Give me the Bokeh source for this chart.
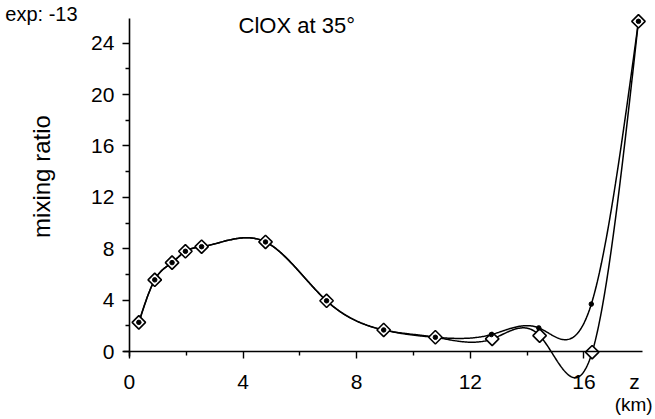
import numpy as np
from bokeh.plotting import figure
from bokeh.models import Range1d, FixedTicker, Label
from bokeh.embed import file_html
from bokeh.resources import INLINE

# ---- data ----
z_a = [0.33, 0.89, 1.50, 1.97, 2.54, 4.79, 6.94, 8.95, 10.77, 12.74, 14.41, 16.26, 17.92]
v_a = [2.27, 5.58, 6.92, 7.80, 8.16, 8.53, 3.95, 1.68, 1.11, 1.32, 1.84, 3.69, 25.7]
z_b = [0.33, 0.89, 1.50, 1.97, 2.54, 4.79, 6.94, 8.95, 10.77, 12.77, 14.44, 16.29, 17.92]
v_b = [2.27, 5.58, 6.92, 7.80, 8.16, 8.53, 3.95, 1.68, 1.11, 0.98, 1.24, -0.05, 25.7]
x_ticks = [0, 4, 8, 12, 16]
x_minor = [2, 6, 10, 14]
y_ticks = [0, 4, 8, 12, 16, 20, 24]
y_minor = [2, 6, 10, 14, 18, 22]

FONT = "Liberation Sans"


def natural_spline(x, y, n=500):
    x = np.asarray(x, float)
    y = np.asarray(y, float)
    m = len(x)
    h = np.diff(x)
    A = np.zeros((m, m))
    r = np.zeros(m)
    A[0, 0] = 1.0
    A[-1, -1] = 1.0
    for i in range(1, m - 1):
        A[i, i - 1] = h[i - 1]
        A[i, i] = 2 * (h[i - 1] + h[i])
        A[i, i + 1] = h[i]
        r[i] = 3 * ((y[i + 1] - y[i]) / h[i] - (y[i] - y[i - 1]) / h[i - 1])
    c = np.linalg.solve(A, r)
    b = (y[1:] - y[:-1]) / h - h * (2 * c[:-1] + c[1:]) / 3
    d = (c[1:] - c[:-1]) / (3 * h)
    xs = np.linspace(x[0], x[-1], n)
    idx = np.clip(np.searchsorted(x, xs) - 1, 0, m - 2)
    dx = xs - x[idx]
    ys = y[idx] + b[idx] * dx + c[idx] * dx ** 2 + d[idx] * dx ** 3
    return xs, ys


p = figure(width=655, height=419, output_backend="svg", toolbar_location=None,
           x_range=Range1d(-4.54, 18.52), y_range=Range1d(-5.29, 27.32),
           min_border_left=0, min_border_right=0, min_border_top=0, min_border_bottom=0)
p.grid.visible = False
p.outline_line_color = None
p.background_fill_color = "white"
p.border_fill_color = "white"

xa, ya = natural_spline(z_a, v_a)
xb, yb = natural_spline(z_b, v_b)
p.line(xb, yb, line_color="black", line_width=1.5)
p.line(xa, ya, line_color="black", line_width=1.5)

p.scatter(z_b, v_b, marker="square", angle=np.pi / 4, size=9.5,
          fill_color="white", line_color="black", line_width=1.6)
p.scatter(z_a, v_a, marker="circle", size=4.5, fill_color="black", line_color="black")

# axes, both crossing at the origin
xa_ = p.xaxis[0]
xa_.fixed_location = 0
xa_.ticker = FixedTicker(ticks=x_ticks, minor_ticks=x_minor)
xa_.bounds = (-0.2, 18.06)
ya_ = p.yaxis[0]
ya_.fixed_location = 0
ya_.ticker = FixedTicker(ticks=y_ticks, minor_ticks=y_minor)
ya_.bounds = (-0.4, 25.9)
for ax in (xa_, ya_):
    ax.axis_line_color = "black"
    ax.axis_line_width = 1.6
    ax.major_tick_line_color = "black"
    ax.minor_tick_line_color = "black"
    ax.major_tick_line_width = 1.4
    ax.minor_tick_line_width = 1.4
    ax.major_tick_in = 0
    ax.minor_tick_in = 0
    ax.major_label_text_font = FONT
    ax.major_label_text_font_size = "21px"
    ax.major_label_text_color = "black"
xa_.major_tick_out = 7
xa_.minor_tick_out = 4
xa_.major_label_standoff = 16
ya_.major_tick_out = 7
ya_.minor_tick_out = 4
ya_.major_label_standoff = 8

p.add_layout(Label(x=-3.09, y=13.62, text="mixing ratio", text_font=FONT, angle=np.pi / 2,
                   text_font_size="24px", text_align="center", text_baseline="middle",
                   text_color="black"))
p.add_layout(Label(x=-4.37, y=26.25, text="exp: -13", text_font=FONT,
                   text_font_size="20px", text_baseline="alphabetic", text_color="black"))
p.add_layout(Label(x=3.84, y=25.35, text="ClOX at 35°", text_font=FONT,
                   text_font_size="22px", text_baseline="alphabetic", text_color="black"))
p.add_layout(Label(x=17.78, y=-2.35, text="z", text_font=FONT,
                   text_font_size="21px", text_align="center", text_baseline="alphabetic",
                   text_color="black"))
p.add_layout(Label(x=18.42, y=-4.1, text="(km)", text_font=FONT,
                   text_font_size="19px", text_align="right", text_baseline="alphabetic",
                   text_color="black"))

open("out.html", "w").write(file_html(p, INLINE))
